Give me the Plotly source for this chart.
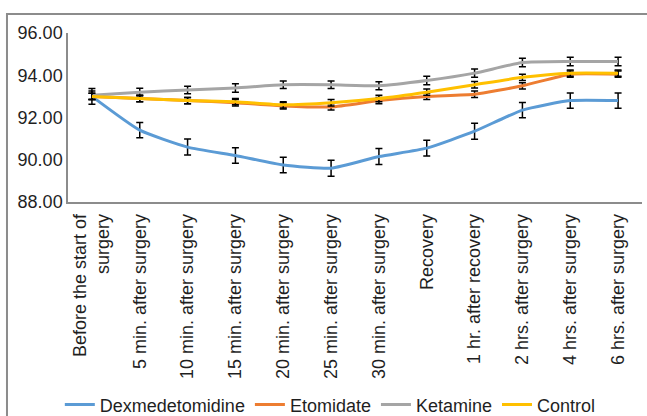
import plotly.graph_objects as go

# Time points (x categories)
time_points = [
    "Before the start of<br>surgery",
    "5 min. after surgery",
    "10 min. after surgery",
    "15 min. after surgery",
    "20 min. after surgery",
    "25 min. after surgery",
    "30 min. after surgery",
    "Recovery",
    "1 hr. after recovery",
    "2 hrs. after surgery",
    "4 hrs. after surgery",
    "6 hrs. after surgery",
]

# Mean values per group
dexmedetomidine = [93.0, 91.4, 90.6, 90.2, 89.75, 89.6, 90.15, 90.55, 91.35, 92.35, 92.8, 92.8]
etomidate = [93.0, 92.9, 92.8, 92.7, 92.55, 92.5, 92.8, 93.0, 93.1, 93.5, 94.05, 94.05]
ketamine = [93.05, 93.2, 93.3, 93.4, 93.55, 93.55, 93.5, 93.75, 94.1, 94.6, 94.65, 94.65]
control = [93.0, 92.9, 92.8, 92.75, 92.6, 92.7, 92.9, 93.2, 93.55, 93.9, 94.1, 94.1]

# Error bar half-widths per group
dexmedetomidine_err = [0.37, 0.36, 0.38, 0.37, 0.37, 0.38, 0.38, 0.37, 0.38, 0.36, 0.36, 0.36]
etomidate_err = [0.15] * 12
ketamine_err = [0.2, 0.18, 0.18, 0.2, 0.18, 0.18, 0.19, 0.2, 0.19, 0.2, 0.2, 0.2]
control_err = [0.15] * 12

series = [
    ("Dexmedetomidine", dexmedetomidine, dexmedetomidine_err, "#5B9BD5"),
    ("Etomidate", etomidate, etomidate_err, "#ED7D31"),
    ("Ketamine", ketamine, ketamine_err, "#A5A5A5"),
    ("Control", control, control_err, "#FFC000"),
]

FONT = "Liberation Sans, Arial, sans-serif"
TEXT = "#1f1f1f"

fig = go.Figure()
for name, vals, errs, color in series:
    fig.add_trace(go.Scatter(
        x=time_points, y=vals, name=name, mode="lines",
        line=dict(color=color, width=3, shape="spline", smoothing=0.5),
        error_y=dict(type="data", array=errs, visible=True,
                     color="#000000", thickness=1.5, width=3.5),
    ))

# Outer frame around the chart
fig.add_shape(type="rect", xref="paper", yref="paper",
              x0=-0.1063, x1=1.05, y0=-1.5, y1=1.112,
              line=dict(color="#8C8C8C", width=2), fillcolor="rgba(0,0,0,0)",
              layer="below")

fig.update_layout(
    width=647, height=416,
    margin=dict(l=68, r=5, t=33, b=214, autoexpand=False),
    paper_bgcolor="white", plot_bgcolor="white",
    font=dict(family=FONT, size=18, color=TEXT),
    showlegend=True,
    legend=dict(orientation="h", x=0.457, xanchor="center", y=-1.2, yanchor="middle",
                font=dict(size=18, color=TEXT), itemwidth=30, tracegroupgap=0,
                bgcolor="rgba(0,0,0,0)"),
    xaxis=dict(range=[-0.5, 11.5], showgrid=False, zeroline=False, showline=True,
               linecolor="#8C8C8C", linewidth=1.5, tickangle=-90, ticks="",
               ticklabelstandoff=3, automargin=False,
               tickfont=dict(size=18, color=TEXT)),
    yaxis=dict(range=[88, 96], dtick=2, tickformat=".2f", showgrid=False,
               zeroline=False, showline=True, linecolor="#8C8C8C", linewidth=1.5,
               ticks="", automargin=False, tickfont=dict(size=18, color=TEXT)),
)

fig.write_html("out.html")
